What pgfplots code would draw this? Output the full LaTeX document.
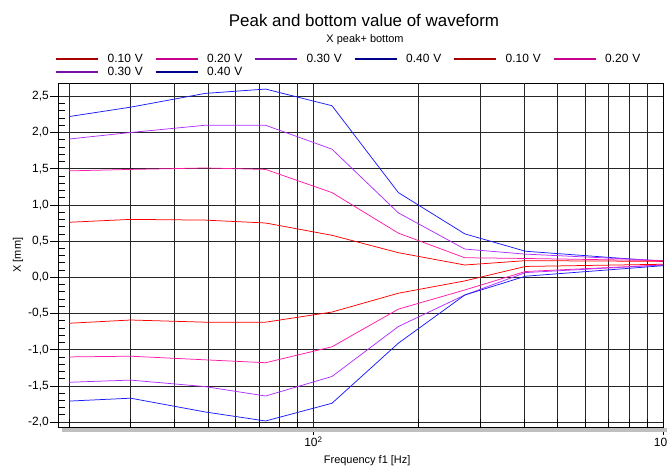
\documentclass[border=0pt]{standalone}
\usepackage{fontspec}
\setmainfont{Liberation Sans}
\usepackage{pgfplots}
\pgfplotsset{compat=1.18}
\definecolor{cred}{HTML}{FF0000}
\definecolor{cpink}{HTML}{FF1AA8}
\definecolor{cpurple}{HTML}{B030FF}
\definecolor{cblue}{HTML}{1A1AFF}
\definecolor{lred}{HTML}{A80000}
\definecolor{lpink}{HTML}{C8008C}
\definecolor{lpurple}{HTML}{7810A8}
\definecolor{lblue}{HTML}{00008C}
\begin{document}
\begin{tikzpicture}[x=1bp,y=1bp]
\begin{axis}[
  at={(58bp,38.7bp)}, anchor=south west,
  scale only axis, width=605bp, height=344.3bp,
  xmode=log, log basis x=10,
  xmin=18.6, xmax=1000, ymin=-2.072, ymax=2.684,
  xtick={100,1000}, xticklabels={10\textsuperscript{2},10\textsuperscript{3}},
  xminorticks=false,
  extra x ticks={20,30,40,50,60,70,80,90,200,300,400,500,600,700,800,900},
  extra x tick labels={},
  extra x tick style={grid=major, tick align=inside},
  ytick={-2,-1.5,-1,-0.5,0,0.5,1,1.5,2,2.5},
  yticklabels={{-2,0},{-1,5},{-1,0},{-0,5},{0,0},{0,5},{1,0},{1,5},{2,0},{2,5}},
  minor y tick num=4,
  xmajorgrids, ymajorgrids,
  major grid style={black!85, line width=0.75bp},
  tick pos=left,
  tick align=outside, major tick length=8bp, minor tick length=7bp,
  tick style={black, line width=0.7bp},
  minor y tick style={xshift=7bp},
  axis line style={line width=0.8bp},
  ticklabel style={font=\fontsize{12}{14}\selectfont},
  yticklabel style={inner sep=0pt, xshift=-1bp},
  xticklabel style={inner sep=1pt},
  xlabel={Frequency f1 [Hz]},
  ylabel={X [mm]},
  label style={font=\fontsize{11}{13}\selectfont},
  xlabel style={at={(axis description cs:0.511,-0.0958)}, anchor=center},
  ylabel style={at={(axis description cs:-0.0661,0.5)}, anchor=center},
  clip=false,
  legend columns=6,
  legend cell align=left,
  legend image code/.code={\draw[#1] (0bp,0bp) -- (42bp,0bp);},
  legend style={at={(axis description cs:-0.0100,1.09)}, anchor=north west,
    draw=none, fill=none, font=\fontsize{12}{14}\selectfont,
    nodes={inner sep=0pt}, row sep=3bp,
    /tikz/every odd column/.append style={column sep=8bp},
    /tikz/every even column/.append style={text width=47bp}},
]
% peak curves
\addplot[cblue, line width=0.75bp, forget plot] coordinates {(20,2.22) (30,2.35) (49,2.54) (73,2.60) (113,2.37) (175,1.17) (271,0.60) (404,0.36) (1000,0.22)};
\addplot[cpurple, line width=0.75bp, forget plot] coordinates {(20,1.91) (30,2.00) (49,2.10) (73,2.10) (113,1.77) (175,0.89) (271,0.39) (404,0.32) (1000,0.23)};
\addplot[cpink, line width=0.75bp, forget plot] coordinates {(20,1.47) (30,1.49) (49,1.51) (73,1.49) (113,1.17) (175,0.61) (271,0.27) (404,0.26) (1000,0.23)};
\addplot[cred, line width=0.75bp, forget plot] coordinates {(20,0.76) (30,0.80) (49,0.79) (73,0.75) (113,0.58) (175,0.34) (271,0.17) (404,0.23) (1000,0.22)};
% bottom curves
\addplot[cred, line width=0.75bp, forget plot] coordinates {(20,-0.635) (30,-0.59) (49,-0.62) (73,-0.62) (113,-0.48) (175,-0.22) (271,-0.05) (404,0.15) (1000,0.18)};
\addplot[cpink, line width=0.75bp, forget plot] coordinates {(20,-1.10) (30,-1.09) (49,-1.14) (73,-1.18) (113,-0.96) (175,-0.44) (271,-0.175) (404,0.08) (1000,0.17)};
\addplot[cpurple, line width=0.75bp, forget plot] coordinates {(20,-1.45) (30,-1.42) (49,-1.51) (73,-1.64) (113,-1.37) (175,-0.68) (271,-0.245) (404,0.065) (1000,0.17)};
\addplot[cblue, line width=0.75bp, forget plot] coordinates {(20,-1.71) (30,-1.67) (49,-1.86) (73,-1.985) (113,-1.74) (175,-0.91) (271,-0.245) (404,0.015) (1000,0.16)};
% legend
\addlegendimage{lred, line width=2.5bp}\addlegendentry{0.10 V}
\addlegendimage{lpink, line width=2.5bp}\addlegendentry{0.20 V}
\addlegendimage{lpurple, line width=2.5bp}\addlegendentry{0.30 V}
\addlegendimage{lblue, line width=2.5bp}\addlegendentry{0.40 V}
\addlegendimage{lred, line width=2.5bp}\addlegendentry{0.10 V}
\addlegendimage{lpink, line width=2.5bp}\addlegendentry{0.20 V}
\addlegendimage{lpurple, line width=2.5bp}\addlegendentry{0.30 V}
\addlegendimage{lblue, line width=2.5bp}\addlegendentry{0.40 V}
\fill[black!25] ([xshift=4bp,yshift=-1bp]rel axis cs:0,0) rectangle ([xshift=10bp,yshift=-5bp]rel axis cs:1,0);
\end{axis}
\node[font=\fontsize{17}{19}\selectfont] at (364,446) {Peak and bottom value of waveform};
\node[font=\fontsize{11}{13}\selectfont] at (365,426) {X peak+ bottom};
\pgfresetboundingbox
\path (0,0) rectangle (667,466);
\end{tikzpicture}
\end{document}
